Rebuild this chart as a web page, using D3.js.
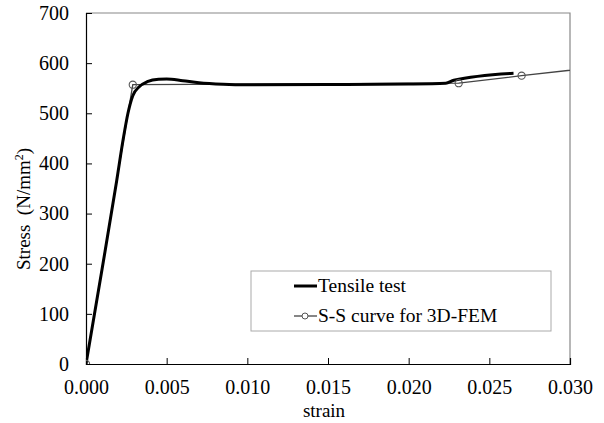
<!DOCTYPE html>
<html>
<head>
<meta charset="utf-8">
<script src="https://cdn.jsdelivr.net/npm/d3@7"></script>
<style>
  body { margin: 0; background: #fff; }
  text { font-family: "Liberation Serif", "Times New Roman", serif; }
</style>
</head>
<body>
<div id="chart"></div>
<script>
// tensile test (measured curve)
const tensileStrain = [0, 0.0010, 0.0019, 0.0023, 0.0026, 0.0029, 0.0033, 0.0038, 0.0045, 0.0050, 0.0060, 0.0070, 0.0085, 0.0100, 0.0150, 0.0200, 0.0223, 0.0228, 0.0265];
const tensileStress = [0, 190, 365, 447, 500, 535, 553, 563, 568, 568.5, 565, 561, 558, 557, 557.5, 558.5, 560, 566, 580];

// S-S curve used in 3D-FEM (polyline with markers)
const femStrain = [0, 0.0029, 0.0231, 0.0270, 0.0320];
const femStress = [0, 557, 560, 575, 593];

const xTicks = [0, 0.005, 0.010, 0.015, 0.020, 0.025, 0.030];
const yTicks = [0, 100, 200, 300, 400, 500, 600, 700];
const legendLabels = ["Tensile test", "S-S curve for 3D-FEM"];

const width = 604, height = 423;
const margin = {top: 13, right: 34, bottom: 59, left: 86};

const x = d3.scaleLinear().domain([0, 0.030]).range([margin.left, width - margin.right]);
const y = d3.scaleLinear().domain([0, 700]).range([height - margin.bottom, margin.top]);

const svg = d3.select("#chart").append("svg")
    .attr("width", width)
    .attr("height", height);

svg.append("defs").append("clipPath").attr("id", "plot-clip")
    .append("rect")
    .attr("x", x(0)).attr("y", y(700))
    .attr("width", x(0.030) - x(0)).attr("height", y(0) - y(700));

// frame top / right (grey)
svg.append("path")
    .attr("d", `M${x(0)},${y(700)}H${x(0.030)}V${y(0)}`)
    .attr("fill", "none")
    .attr("stroke", "#888")
    .attr("stroke-width", 1.2);

// axes, ticks pointing inward
const xAxis = g => g.attr("transform", `translate(0,${y(0)})`)
    .call(d3.axisBottom(x).tickValues(xTicks).tickFormat(d3.format(".3f")).tickSize(-6).tickPadding(16))
    .call(g => g.select(".domain").attr("stroke-width", 1.2))
    .call(g => g.selectAll("text").attr("font-size", 20).attr("fill", "#000").attr("font-family", "Liberation Serif, serif"));

const yAxis = g => g.attr("transform", `translate(${x(0)},0)`)
    .call(d3.axisLeft(y).tickValues(yTicks).tickSize(-6).tickPadding(17))
    .call(g => g.select(".domain").attr("stroke-width", 1.2))
    .call(g => g.selectAll("text").attr("font-size", 20).attr("fill", "#000").attr("font-family", "Liberation Serif, serif"));

svg.append("g").call(xAxis);
svg.append("g").call(yAxis);

// axis titles
svg.append("text")
    .attr("x", (x(0) + x(0.030)) / 2 - 4)
    .attr("y", 417)
    .attr("text-anchor", "middle")
    .attr("font-size", 19)
    .text("strain");

const yl = svg.append("text")
    .attr("transform", `translate(30,209) rotate(-90)`)
    .attr("text-anchor", "middle")
    .attr("font-size", 19)
    .attr("xml:space", "preserve");
yl.append("tspan").text("Stress  (N/mm");
yl.append("tspan").attr("font-size", 12).attr("dy", -7).text("2");
yl.append("tspan").attr("dy", 7).text(")");

const plot = svg.append("g").attr("clip-path", "url(#plot-clip)");

const tensile = tensileStrain.map((s, i) => [s, tensileStress[i]]);
const fem = femStrain.map((s, i) => [s, femStress[i]]);

plot.append("path")
    .datum(fem)
    .attr("fill", "none")
    .attr("stroke", "#444")
    .attr("stroke-width", 1.3)
    .attr("d", d3.line().x(d => x(d[0])).y(d => y(d[1])));

plot.append("path")
    .datum(tensile)
    .attr("fill", "none")
    .attr("stroke", "#000")
    .attr("stroke-width", 3)
    .attr("stroke-linecap", "butt")
    .attr("d", d3.line().curve(d3.curveMonotoneX).x(d => x(d[0])).y(d => y(d[1])));

plot.selectAll("circle")
    .data(fem)
    .join("circle")
    .attr("cx", d => x(d[0]))
    .attr("cy", d => y(d[1]))
    .attr("r", 3.6)
    .attr("fill", "none")
    .attr("stroke", "#555")
    .attr("stroke-width", 1.1);

// legend
const lg = svg.append("g");
lg.append("rect")
    .attr("x", 251).attr("y", 271)
    .attr("width", 300).attr("height", 60)
    .attr("fill", "#fff")
    .attr("stroke", "#aaa")
    .attr("stroke-width", 1);

legendLabels.forEach((label, i) => {
    const cy = 286 + i * 30;
    lg.append("line")
        .attr("x1", 294).attr("x2", 317)
        .attr("y1", cy).attr("y2", cy)
        .attr("stroke", i == 0 ? "#000" : "#444")
        .attr("stroke-width", i == 0 ? 3 : 1.3);
    if (i == 1) {
        lg.append("circle")
            .attr("cx", 305).attr("cy", cy).attr("r", 3)
            .attr("fill", "#fff").attr("stroke", "#555").attr("stroke-width", 1);
    }
    lg.append("text")
        .attr("x", 318).attr("y", cy + 6)
        .attr("font-size", 19.5)
        .text(label);
});
</script>
</body>
</html>
